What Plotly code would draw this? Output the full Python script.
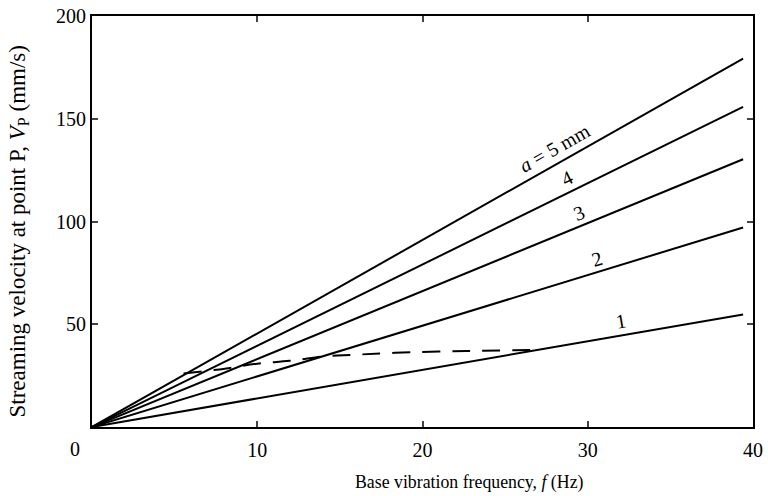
import plotly.graph_objects as go

# Data
freq_ends = [0, 39.4]
series_names = ["1", "2", "3", "4", "a = 5 mm"]
v_ends = {
    "1": [0, 54.8],
    "2": [0, 97.1],
    "3": [0, 130.3],
    "4": [0, 155.8],
    "a = 5 mm": [0, 179.3],
}
dash_f = [5.54, 8.04, 10.0, 11.96, 14.35, 15.77, 18.33, 22.68, 26.67]
dash_v = [26.0, 28.4, 30.8, 32.2, 34.6, 35.1, 36.1, 37.0, 37.5]

x_ticks = [10, 20, 30, 40]
y_ticks = [50, 100, 150, 200]

# label anchor positions (data coords) and angles
label_text = ["1", "2", "3", "4", "<i>a</i> = 5 mm"]
label_x = [32.0, 30.54, 29.46, 28.75, 28.0]
label_y = [51.4, 81.7, 104.3, 121.2, 135.6]
label_angle = [-10, -17, -22, -26, -29.5]

FONT = "Liberation Serif, Times New Roman, serif"

fig = go.Figure()
for name in series_names:
    fig.add_trace(go.Scatter(x=freq_ends, y=v_ends[name], mode="lines",
                             line=dict(color="black", width=2),
                             name=name, showlegend=False, hoverinfo="skip"))
fig.add_trace(go.Scatter(x=dash_f, y=dash_v, mode="lines",
                         line=dict(color="black", width=2, dash="18px,12px", shape="spline"),
                         showlegend=False, hoverinfo="skip"))

annotations = []
for t, x, y, a in zip(label_text, label_x, label_y, label_angle):
    annotations.append(dict(x=x, y=y, xref="x", yref="y", text=t, showarrow=False,
                            textangle=a, font=dict(family=FONT, size=20, color="black")))
# corner zero
annotations.append(dict(x=0, y=0, xref="x", yref="y", text="0", showarrow=False,
                        xanchor="center", yanchor="middle",
                        xshift=-17, yshift=-22, font=dict(family=FONT, size=20, color="black")))
# axis titles
annotations.append(dict(x=0.5, y=0, xref="paper", yref="paper", text="Base vibration frequency, <i>f</i> (Hz)",
                        showarrow=False, xanchor="center", yanchor="middle",
                        xshift=47, yshift=-55, font=dict(family=FONT, size=17.8, color="black")))
annotations.append(dict(x=0, y=0.5, xref="paper", yref="paper",
                        text="Streaming velocity at point P, <i>V</i><sub>P</sub> (mm/s)",
                        showarrow=False, textangle=-90, xanchor="center", yanchor="middle",
                        xshift=-74, yshift=-10,
                        font=dict(family=FONT, size=23, color="black")))

fig.update_layout(
    width=768, height=496,
    margin=dict(l=92, r=5, t=11, b=69),
    paper_bgcolor="white", plot_bgcolor="white",
    font=dict(family=FONT, size=20, color="black"),
    annotations=annotations,
    xaxis=dict(range=[0, 40], tickvals=x_ticks, ticks="inside", ticklen=6, tickwidth=1.5,
               showline=True, linewidth=2, linecolor="black", mirror="ticks",
               ticklabeloverflow="allow", ticklabelstandoff=4,
               showgrid=False, zeroline=False, tickfont=dict(family=FONT, size=20)),
    yaxis=dict(range=[0, 200], tickvals=y_ticks, ticks="inside", ticklen=6, tickwidth=1.5,
               showline=True, linewidth=2, linecolor="black", mirror="ticks",
               showgrid=False, zeroline=False, tickfont=dict(family=FONT, size=20)),
)

fig.write_html("out.html")
